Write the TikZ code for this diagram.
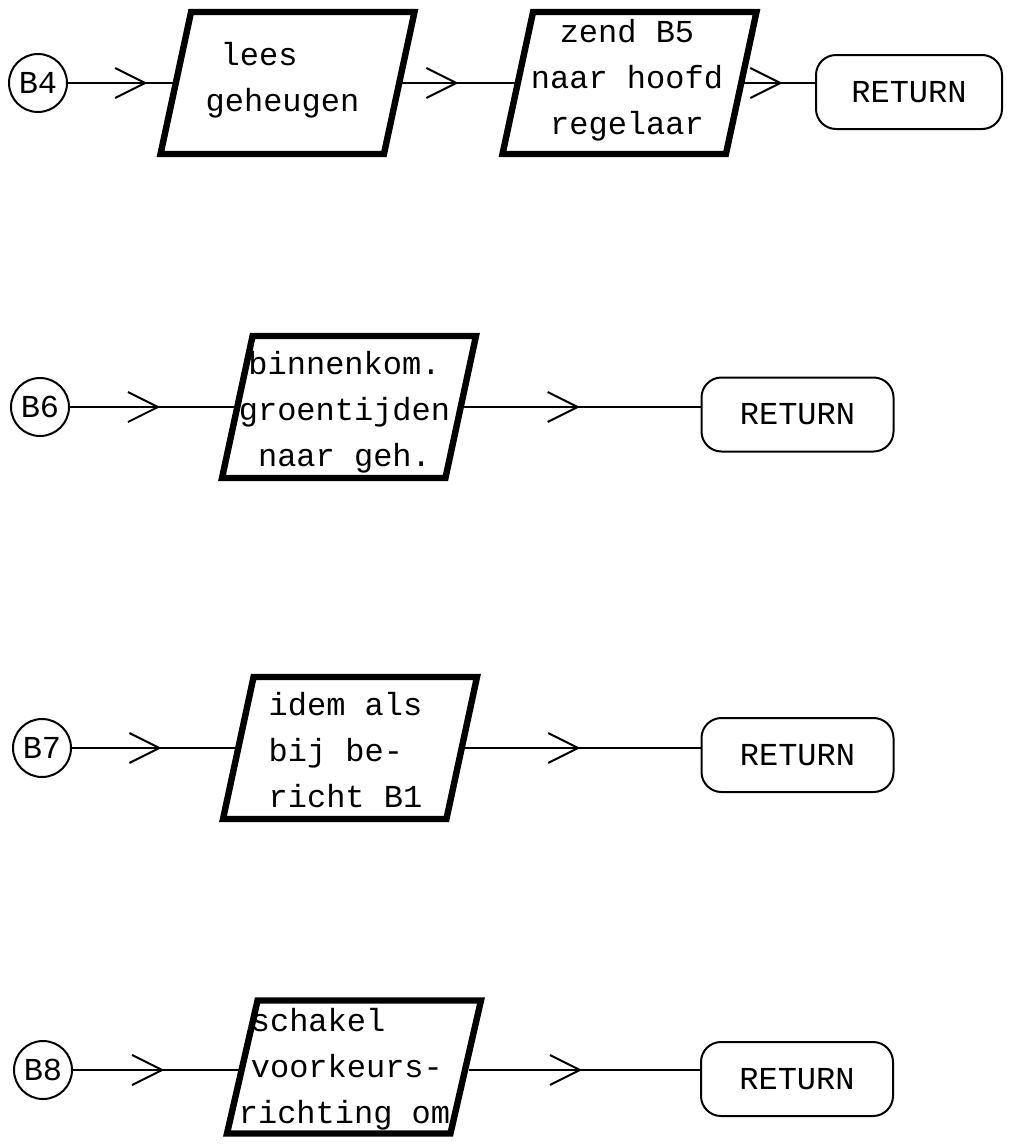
\documentclass[tikz,border=0pt]{standalone}
\usepackage{fontspec}
\setmonofont{Liberation Mono}
\usetikzlibrary{arrows.meta,shapes.geometric,decorations.markings}

\begin{document}
\begin{tikzpicture}[x=.5pt,y=-.5pt,
io/.style={trapezium,trapezium left angle=81,trapezium right angle=99,trapezium stretches=true,draw,line width=3.2pt,minimum width=127pt,minimum height=71pt,inner sep=2pt},
con/.style={circle,draw,line width=1pt,minimum size=29pt,inner sep=0pt,font=\ttfamily\fontsize{16}{23}\selectfont},
ret/.style={draw,line width=1pt,rounded corners=10pt,minimum width=96pt,minimum height=37pt,font=\ttfamily\fontsize{16}{23}\selectfont},
txt/.style={inner sep=0pt,font=\ttfamily\fontsize{16}{23}\selectfont},
arr/.style={line width=1pt,decoration={markings,mark=at position #1 with {\arrow{Straight Barb[length=15pt,width=15pt]}}},postaction={decorate}}]
\fill[white] (0,0) rectangle (1011,1146);
\useasboundingbox (0,0) rectangle (1011,1146);
% B4
\node[con] (c4) at (38,83) {B4};
\node[io] (p4a) at (287.5,83) {};
\node[txt,align=left] (t4a) at (282.5,80) {\hspace*{7.5pt}lees\\geheugen};
\node[io] (p4b) at (629.5,83) {};
\node[txt,align=center] (t4b) at (627,80) {zend B5\\naar hoofd\\regelaar};
\node[ret,minimum width=93pt] (r4) at (909,92) {RETURN};
\draw[arr=.76] (c4) -- (p4a);
\draw[arr=.5] (p4a) -- (p4b);
\draw[arr=.54] (p4b) -- (p4b -| r4.west);
% B6
\node[con] (c6) at (40,407) {B6};
\node[io] (p6) at (349,407) {};
\node[txt,align=center] (t6) at (344.5,412) {binnenkom.\\groentijden\\naar geh.};
\node[ret] (r6) at (797.5,414.5) {RETURN};
\draw[arr=.55] (c6) -- (p6);
\draw[arr=.49] (p6) -- (p6 -| r6.west);
% B7
\node[con] (c7) at (42,748) {B7};
\node[io] (p7) at (350,748) {};
\node[txt,align=left] (t7) at (345.5,750) {idem als\\bij be-\\richt B1};
\node[ret] (r7) at (797.5,755) {RETURN};
\draw[arr=.55] (c7) -- (p7);
\draw[arr=.49] (p7) -- (p7 -| r7.west);
% B8
\node[con] (c8) at (43,1070) {B8};
\node[io,minimum height=66.5pt] (p8) at (354,1067) {};
\node[txt,align=left] (t8) at (344.5,1069) {\hspace*{6pt}schakel\\\hspace*{6pt}voorkeurs-\\richting om};
\node[ret] (r8) at (797,1079) {RETURN};
\draw[arr=.55] (c8) -- (c8 -| p8.west);
\draw[arr=.49] (c8 -| p8.east) -- (c8 -| r8.west);
\end{tikzpicture}
\end{document}
